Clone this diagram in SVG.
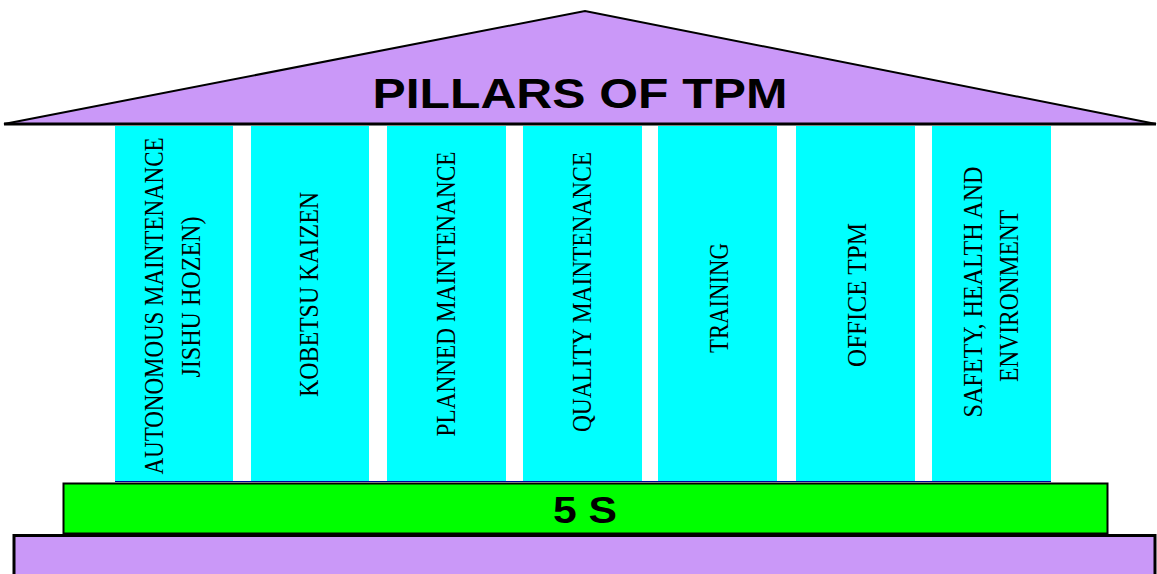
<svg xmlns="http://www.w3.org/2000/svg" width="1157" height="574" viewBox="0 0 1157 574">
<style>
.pillar{fill:#00FFFF}
.pl{font-family:"Liberation Serif","Times New Roman",serif;font-size:27px;fill:#000;text-anchor:middle}
.purple{fill:#CA98F8;stroke:#000}
.title{font-family:"Liberation Sans",Arial,sans-serif;font-weight:bold;fill:#000;text-anchor:middle}
</style>
<rect width="1157" height="574" fill="#fff"/>
<g id="roof">
<polygon class="purple" stroke-width="2" points="4,124 585,11 1156,124"/>
<line x1="4" y1="124" x2="1156" y2="124" stroke="#000" stroke-width="3"/>
<text class="title" x="580" y="108" font-size="42" textLength="415" lengthAdjust="spacingAndGlyphs">PILLARS OF TPM</text>
</g>
<g id="pillar1"><rect class="pillar" x="115" y="126" width="118" height="355"/>
<text class="pl" transform="translate(163,306) rotate(-90)" textLength="337" lengthAdjust="spacingAndGlyphs">AUTONOMOUS MAINTENANCE</text>
<text class="pl" transform="translate(200,297) rotate(-90)" textLength="161" lengthAdjust="spacingAndGlyphs">JISHU HOZEN)</text></g>
<g id="pillar2"><rect class="pillar" x="251" y="126" width="118" height="355"/>
<text class="pl" transform="translate(318,294.5) rotate(-90)" textLength="205" lengthAdjust="spacingAndGlyphs">KOBETSU KAIZEN</text></g>
<g id="pillar3"><rect class="pillar" x="387" y="126" width="119" height="355"/>
<text class="pl" transform="translate(455,294) rotate(-90)" textLength="285" lengthAdjust="spacingAndGlyphs">PLANNED MAINTENANCE</text></g>
<g id="pillar4"><rect class="pillar" x="523" y="126" width="119" height="355"/>
<text class="pl" transform="translate(591,292) rotate(-90)" textLength="280" lengthAdjust="spacingAndGlyphs">QUALITY MAINTENANCE</text></g>
<g id="pillar5"><rect class="pillar" x="658" y="126" width="119" height="355"/>
<text class="pl" transform="translate(728,298) rotate(-90)" textLength="110" lengthAdjust="spacingAndGlyphs">TRAINING</text></g>
<g id="pillar6"><rect class="pillar" x="796" y="126" width="119" height="355"/>
<text class="pl" transform="translate(866,295) rotate(-90)" textLength="144" lengthAdjust="spacingAndGlyphs">OFFICE TPM</text></g>
<g id="pillar7"><rect class="pillar" x="932" y="126" width="119" height="355"/>
<text class="pl" transform="translate(982,292) rotate(-90)" textLength="251" lengthAdjust="spacingAndGlyphs">SAFETY, HEALTH AND</text>
<text class="pl" transform="translate(1018,296) rotate(-90)" textLength="172" lengthAdjust="spacingAndGlyphs">ENVIRONMENT</text></g>
<line x1="115" y1="481.5" x2="1051" y2="481.5" stroke="#0000A0" stroke-width="1"/>
<g id="fives">
<rect x="63.5" y="483.5" width="1044" height="50" fill="#00FF00" stroke="#000" stroke-width="2"/>
<text class="title" x="585" y="523" font-size="36" textLength="64" lengthAdjust="spacingAndGlyphs">5 S</text>
</g>
<g id="base">
<rect class="purple" x="14" y="535.5" width="1141" height="45" stroke-width="3"/>
</g>
<g id="connectors"></g>
</svg>
